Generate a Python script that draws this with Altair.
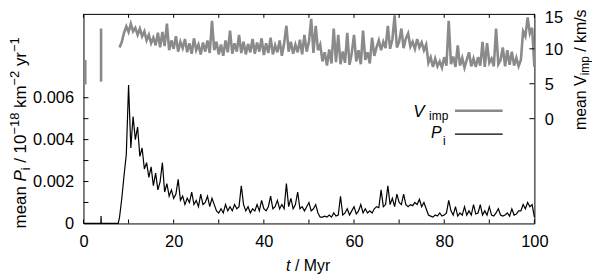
import altair as alt
import pandas as pd

# ---------------- data ----------------
# early part of P_i (before the main sampling grid)
p_early_t = [0.0, 3.85, 3.9, 3.95, 7.7]
p_early = [0.0, 0.0, 0.00035, 0.0, 0.0]

# P_i sampled every 0.5 Myr from t = 8.0 to 100.0 (rows of 5 Myr)
p_main = [
    0.0003, 0.0012, 0.0023, 0.0033, 0.0066, 0.0036, 0.0051, 0.0040, 0.0046, 0.0032,
    0.0036, 0.0026, 0.0029, 0.0022, 0.0027, 0.0018, 0.0024, 0.0016, 0.0020, 0.0029,
    0.0015, 0.0019, 0.0013, 0.0016, 0.0012, 0.0014, 0.0021, 0.0011, 0.0013, 0.0009,
    0.0012, 0.0010, 0.0015, 0.0009, 0.0011, 0.0008, 0.0014, 0.0009, 0.0010, 0.0013,
    0.0008, 0.0012, 0.0009, 0.0006, 0.0005, 0.0007, 0.0005, 0.0009, 0.0006, 0.0008,
    0.0006, 0.0009, 0.0007, 0.0008, 0.0018, 0.0009, 0.0006, 0.0008, 0.0005, 0.0007,
    0.0006, 0.0009, 0.0006, 0.0011, 0.0007, 0.0006, 0.0008, 0.0013, 0.0007, 0.0008,
    0.0011, 0.0007, 0.0009, 0.0007, 0.0019, 0.0008, 0.0012, 0.0007, 0.0009, 0.0015,
    0.0007, 0.0008, 0.0006, 0.0008, 0.0010, 0.0006, 0.0007, 0.0009, 0.0005, 0.0003,
    0.0003, 0.00035, 0.0003, 0.0004, 0.0003, 0.0005, 0.00035, 0.0004, 0.0013, 0.0004,
    0.0005, 0.0007, 0.0004, 0.0006, 0.0008, 0.00045, 0.0006, 0.0009, 0.0005, 0.0007,
    0.0005, 0.0006, 0.0005, 0.0007, 0.0008, 0.00075, 0.0016, 0.0008, 0.0009, 0.0018,
    0.0009, 0.0012, 0.0008, 0.0014, 0.0010, 0.0009, 0.0014, 0.0009, 0.0008, 0.0009,
    0.00085, 0.0010, 0.0009, 0.00115, 0.0008, 0.0010, 0.0007, 0.0004, 0.00035, 0.0003,
    0.0004, 0.00035, 0.0005, 0.00035, 0.0004, 0.0005, 0.0011, 0.0006, 0.0004, 0.0008,
    0.00035, 0.0005, 0.0004, 0.0008, 0.0004, 0.0006, 0.0004, 0.0009, 0.00045, 0.0005,
    0.0009, 0.0004, 0.0006, 0.0004, 0.0008, 0.0004, 0.00035, 0.0005, 0.0007, 0.0004,
    0.00035, 0.0004, 0.0005, 0.00035, 0.0007, 0.0004, 0.00045, 0.0006, 0.0006, 0.0009,
    0.0007, 0.0010, 0.0008, 0.0009, 0.0003,
]

# V_imp: two short early segments, then the main series on the same grid as P_i
v_seg1_t = [0.4, 0.4]
v_seg1 = [8.4, 4.9]
v_seg2_t = [3.9, 3.9]
v_seg2 = [12.9, 5.3]
v_main = [
    10.2, 11.0, 12.3, 13.2, 12.4, 13.6, 12.5, 13.0, 12.0, 12.9,
    11.8, 12.5, 11.2, 12.0, 10.8, 11.6, 10.5, 12.3, 10.2, 12.4,
    10.4, 13.6, 9.8, 11.2, 10.0, 11.8, 9.6, 11.0, 10.1, 11.4,
    9.5, 10.8, 9.3, 11.5, 9.8, 10.6, 9.2, 10.9, 9.6, 11.2,
    9.4, 14.0, 9.8, 11.0, 9.2, 10.6, 9.0, 11.2, 9.5, 12.6,
    9.3, 10.8, 9.6, 12.0, 9.4, 11.0, 9.2, 10.7, 9.5, 11.4,
    9.3, 10.9, 9.6, 11.5, 9.1, 10.8, 9.4, 11.6, 9.2, 10.5,
    9.5, 11.2, 9.0, 10.8, 13.3, 9.6, 11.0, 9.3, 10.6, 9.5,
    11.3, 9.2, 12.0, 9.6, 11.0, 14.3, 9.4, 13.3, 9.8, 10.6,
    8.2, 9.5, 7.6, 9.9, 7.9, 12.9, 8.1, 12.0, 7.8, 9.6,
    8.0, 12.3, 7.7, 9.4, 12.0, 8.2, 9.8, 7.8, 12.6, 8.4,
    9.5, 7.9, 11.6, 9.0, 10.2, 11.2, 9.8, 11.0, 10.1, 13.3,
    10.0, 11.3, 14.8, 10.2, 11.0, 12.9, 10.1, 11.5, 12.2, 10.3,
    11.0, 10.0, 11.4, 10.2, 10.9, 9.8, 10.6, 8.0, 8.8, 7.4,
    8.6, 7.5, 8.2, 7.3, 8.8, 7.6, 14.0, 7.8, 8.9, 7.4,
    10.5, 7.6, 8.7, 7.3, 8.4, 9.5, 7.5, 8.6, 7.4, 8.8,
    7.6, 11.0, 7.4, 10.8, 8.0, 8.6, 7.5, 12.9, 7.8, 8.4,
    10.2, 7.5, 9.8, 7.7, 9.6, 7.6, 8.7, 7.5, 8.4, 12.5,
    11.8, 14.5, 12.2, 13.0, 7.4,
]

x_major = [0, 20, 40, 60, 80, 100]
x_ticks = [0, 10, 20, 30, 40, 50, 60, 70, 80, 90, 100]
p_labels = [0, 0.002, 0.004, 0.006]
p_ticks = [0.001, 0.002, 0.003, 0.004, 0.005, 0.006]
v_labels = [0, 5, 10, 15]
v_ticks = [0, 5, 10]

# ---------------- tables ----------------
t_grid = [8.0 + 0.5 * i for i in range(len(p_main))]
dfp = pd.DataFrame({"t": p_early_t + t_grid, "p": p_early + p_main})
dfv = pd.DataFrame({
    "t": v_seg1_t + v_seg2_t + t_grid,
    "v": v_seg1 + v_seg2 + v_main,
    "seg": ["a"] * len(v_seg1) + ["b"] * len(v_seg2) + ["c"] * len(v_main),
})

W, H = 454, 211
FONT = "Liberation Sans"
GRAY = "#8a8a8a"
VW = 2.6
PW = 1.2
LAB = 16.5

xscale = alt.Scale(domain=[0, 100], nice=False, zero=False)
pscale = alt.Scale(domain=[0, 0.01], nice=False)
vscale = alt.Scale(domain=[-15, 15], nice=False)

axis_common = dict(
    ticks=False, domain=False, grid=False, labelPadding=10,
    labelFont=FONT, labelFontSize=LAB, labelColor="black", title=None,
)

x_axis = alt.Axis(orient="bottom", values=x_major, labelFlush=False, **axis_common)
p_axis = alt.Axis(
    orient="left", values=p_labels,
    labelExpr="datum.value == 0 ? '0' : format(datum.value, '.3f')",
    **axis_common,
)
v_axis = alt.Axis(
    orient="right", values=v_labels,
    labelOffset={"expr": "datum.value == 15 ? 3.5 : 1"},
    **axis_common,
)

X = alt.X("t:Q", scale=xscale, axis=x_axis)

p_line = alt.Chart(dfp).mark_line(color="black", strokeWidth=PW).encode(
    x=X,
    y=alt.Y("p:Q", scale=pscale, axis=p_axis),
)

v_line = alt.Chart(dfv).mark_line(color=GRAY, strokeWidth=VW).encode(
    x=X,
    y=alt.Y("v:Q", scale=vscale, axis=v_axis),
    detail="seg:N",
)

p_tick_rules = alt.Chart(pd.DataFrame({"pt": p_ticks})).mark_rule(
    color="black", strokeWidth=1
).encode(
    x=alt.value(0), x2=alt.value(5),
    y=alt.Y("pt:Q", scale=pscale, axis=None),
)

v_tick_rules = alt.Chart(pd.DataFrame({"vt": v_ticks})).mark_rule(
    color="black", strokeWidth=1
).encode(
    x=alt.value(W), x2=alt.value(W - 5),
    y=alt.Y("vt:Q", scale=vscale, axis=None),
)

xt = pd.DataFrame({"t": x_ticks})
x_bottom = alt.Chart(xt).mark_rule(color="black").encode(
    x=X, y=alt.value(H), y2=alt.value(H - 4)
)
x_top = alt.Chart(xt).mark_rule(color="black").encode(
    x=X, y=alt.value(0), y2=alt.value(4)
)

one = pd.DataFrame({"k": [0]})


def txt(s, x, y, size, italic=False, angle=0):
    kw = dict(text=s, font=FONT, fontSize=size, align="left",
              baseline="alphabetic", color="black")
    if italic:
        kw["fontStyle"] = "italic"
    if angle:
        kw["angle"] = angle
    return alt.Chart(one).mark_text(**kw).encode(x=alt.value(x), y=alt.value(y))


leg_v_line = alt.Chart(one).mark_rule(color=GRAY, strokeWidth=VW).encode(
    x=alt.value(374), x2=alt.value(422), y=alt.value(97.5)
)
leg_p_line = alt.Chart(one).mark_rule(color="black", strokeWidth=PW).encode(
    x=alt.value(374), x2=alt.value(422), y=alt.value(121)
)

# rotated left title: mean P_i / 10^-18 km^-2 yr^-1
LB, LSUP, LSUB = -58, -65, -54
left_title = [
    txt("mean", LB, 216, 17, angle=270),
    txt("P", LB, 168.8, 17, italic=True, angle=270),
    txt("i", LSUB, 157.5, 13, angle=270),
    txt("/ 10", LB, 149.9, 17, angle=270),
    txt("−18", LSUP, 121.5, 13, angle=270),
    txt("km", LB, 94.8, 17, angle=270),
    txt("−2", LSUP, 72.1, 13, angle=270),
    txt("yr", LB, 52.6, 17, angle=270),
    txt("−1", LSUP, 38.4, 13, angle=270),
]

# rotated right title: mean V_imp / km/s
RB, RSUB = 506, 509
right_title = [
    txt("mean V", RB, 117, 16, angle=270),
    txt("imp", RSUB, 61.9, 12, angle=270),
    txt("/ km/s", RB, 38.2, 16, angle=270),
]

chart = alt.layer(
    p_line, v_line, p_tick_rules, v_tick_rules, x_bottom, x_top,
    txt("V", 332, 103.5, 17, True),
    txt("imp", 348, 107, 12),
    txt("P", 350, 124.5, 16, True),
    txt("i", 362, 132, 12),
    leg_v_line, leg_p_line,
    # x-axis title: italic t followed by the unit
    txt("t", 204, H + 48, 16, True),
    txt("/ Myr", 213, H + 48, 16),
    *left_title,
    *right_title,
).resolve_scale(y="independent").properties(
    width=W, height=H,
    autosize=alt.AutoSizeParams(type="none"),
    padding={"left": 76, "top": 5, "right": 58, "bottom": 53},
).configure_view(
    stroke="black", strokeWidth=1
)

chart.save("out.html", embed_options={"renderer": "svg", "actions": False})
